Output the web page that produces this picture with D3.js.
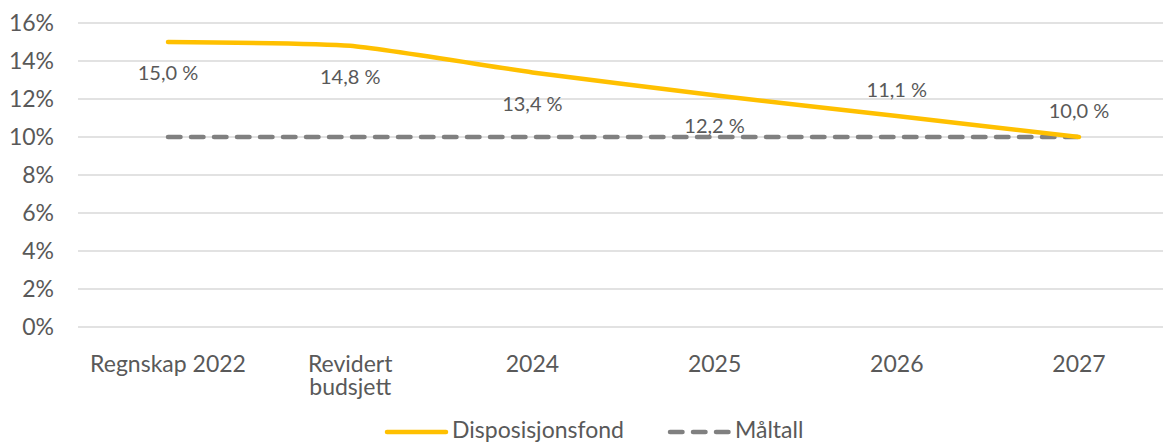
<!DOCTYPE html>
<html>
<head>
<meta charset="utf-8">
<script src="https://cdn.jsdelivr.net/npm/d3@7"></script>
<style>
  body { margin: 0; background: #fff; }
  text { font-family: Lato, "Open Sans", sans-serif; fill: #595959; }
</style>
</head>
<body>
<svg id="chart"></svg>
<script>
// Chart data
const categories = ["Regnskap 2022", "Revidert budsjett", "2024", "2025", "2026", "2027"];
const fondValues = [15.0, 14.8, 13.4, 12.2, 11.1, 10.0];
const targetValues = [10, 10, 10, 10, 10, 10];
const yTicks = [0, 2, 4, 6, 8, 10, 12, 14, 16];
const labelAbove = [false, false, false, false, true, true];

const width = 1163, height = 444;
const svg = d3.select("#chart")
  .attr("width", width)
  .attr("height", height);

const x = d3.scalePoint()
  .domain(categories)
  .range([168, 1079]);

const y = d3.scaleLinear()
  .domain([0, 16])
  .range([327, 23]);

// Gridlines
svg.append("g")
  .selectAll("line")
  .data(yTicks)
  .enter()
  .append("line")
    .attr("x1", 78)
    .attr("x2", 1170)
    .attr("y1", d => y(d))
    .attr("y2", d => y(d))
    .style("stroke", "#d9d9d9")
    .style("stroke-width", 1.5);

// Y axis labels
svg.append("g")
  .selectAll("text")
  .data(yTicks)
  .enter()
  .append("text")
    .attr("x", 54)
    .attr("y", d => y(d))
    .attr("dy", "0.36em")
    .attr("text-anchor", "end")
    .style("font-size", "23px")
    .text(d => d + "%");

// X axis labels, wrapped for "Revidert budsjett"
const xl = svg.append("g")
  .selectAll("text")
  .data(categories)
  .enter()
  .append("text")
    .attr("x", d => x(d))
    .attr("y", 372)
    .attr("text-anchor", "middle")
    .style("font-size", "23px");
xl.each(function(d) {
  const lines = d === "Revidert budsjett" ? ["Revidert", "budsjett"] : [d];
  d3.select(this).selectAll("tspan")
    .data(lines)
    .enter()
    .append("tspan")
      .attr("x", x(d))
      .attr("dy", (l, i) => i === 0 ? 0 : 23)
      .text(l => l);
});

// Target (dashed) line
svg.append("path")
  .datum(targetValues)
  .attr("d", d3.line().x((d, i) => x(categories[i])).y(d => y(d)))
  .style("fill", "none")
  .style("stroke", "#808080")
  .style("stroke-width", 4.5)
  .style("stroke-linecap", "round")
  .style("stroke-dasharray", "12.5,10.5");

// Disposisjonsfond (smoothed) line
svg.append("path")
  .datum(fondValues)
  .attr("d", d3.line()
    .x((d, i) => x(categories[i]))
    .y(d => y(d))
    .curve(d3.curveCardinal.tension(0.5)))
  .style("fill", "none")
  .style("stroke", "#ffc000")
  .style("stroke-width", 4.5)
  .style("stroke-linecap", "round");

// Data labels
svg.append("g")
  .selectAll("text")
  .data(fondValues)
  .enter()
  .append("text")
    .attr("x", (d, i) => x(categories[i]))
    .attr("y", (d, i) => y(d) + (labelAbove[i] ? -26 : 31))
    .attr("dy", "0.36em")
    .attr("text-anchor", "middle")
    .style("font-size", "20px")
    .text(d => d.toFixed(1).replace(".", ",") + " %");

// Legend
const legend = [
  {name: "Disposisjonsfond", color: "#ffc000", dash: null, x: 385},
  {name: "Måltall", color: "#808080", dash: "12.5,10.5", x: 668}
];
const lg = svg.append("g")
  .selectAll("g")
  .data(legend)
  .enter()
  .append("g");
lg.append("line")
  .attr("x1", d => d.x + 2)
  .attr("x2", d => d.x + 61)
  .attr("y1", 432)
  .attr("y2", 432)
  .style("stroke", d => d.color)
  .style("stroke-width", 4.5)
  .style("stroke-linecap", "round")
  .style("stroke-dasharray", d => d.dash);
lg.append("text")
  .attr("x", d => d.x + 67)
  .attr("y", 430)
  .attr("dy", "0.36em")
  .style("font-size", "23px")
  .text(d => d.name);
</script>
</body>
</html>
